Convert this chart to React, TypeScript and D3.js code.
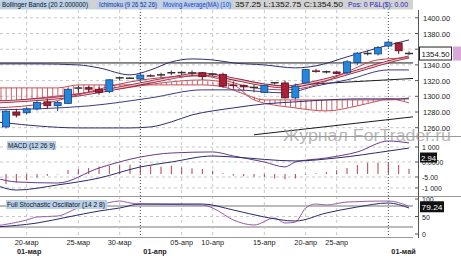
import React from "react";
import * as d3 from "d3";

const W = 461;
const H = 256;

// ---- candles (index 0..39) ----
const opens = [1261,1280,1279,1284,1293,1288,1291,1310,1311,1309,1306,1323,1323,1322,1326.5,1327,1329.5,1329.8,1329.5,1330,1328,1328,1314.5,1314,1311,1305,1317,1317,1298,1317,1333,1331,1331,1330,1343,1354,1354,1364,1368,1354.5];
const highs = [1282,1284,1286,1295,1297,1294,1310,1313,1313,1312,1322,1325,1324,1330,1328,1330,1333,1332,1333,1331,1329.5,1330,1319,1315,1315,1315,1318,1320,1316,1335,1335,1333,1332,1346,1356,1358,1364,1371,1369,1357.25];
const lows = [1259,1273,1277,1282,1284,1281,1290,1305,1306,1302,1304,1320,1322,1320,1325,1324,1327,1327,1326,1321,1326,1311,1310,1308,1305,1304,1315,1297,1296,1316,1330,1329,1328,1328,1340,1352,1352,1362,1354,1352.75];
const closes = [1281,1276,1284,1292,1288,1292,1309,1310.5,1309,1305,1321,1323.5,1323,1327,1326,1327.3,1330,1330.2,1329.8,1325,1328.3,1313,1314,1312,1311.3,1314,1317.3,1298,1313,1334,1332,1331.2,1329.5,1344,1355,1354.5,1362,1369,1358,1354.5];

// ---- main panel overlays: [index, price] ----
const bbUpper = [[-1,1341.3],[0,1341.3],[3,1341.3],[7,1340],[9,1336.2],[12,1327.3],[14,1333.6],[16,1343.8],[18,1347.6],[20,1346.4],[22,1342.5],[25,1340],[28,1336.2],[30,1338.8],[33,1350.2],[36,1361.7],[39,1371.8]];
const bbLower = [[-1,1267.4],[0,1266.1],[3,1262.3],[7,1259.7],[12,1259.7],[14,1261],[16,1267.4],[18,1276.3],[20,1281.4],[22,1285.2],[25,1290.3],[28,1292.9],[31,1295.4],[34,1296.7],[39,1296.7]];
const senkouA = [[-1,1310.7],[5,1310.7],[7,1314.5],[19,1314.5],[21,1312],[23,1303],[25,1295.4],[37,1295.4],[39,1298]];
const senkouB = [[-1,1291.6],[5,1300.5],[11,1309.4],[15,1317],[19,1320.9],[22,1314.5],[24,1295.4],[28,1285.2],[31,1281.4],[34,1287.8],[36,1294],[37,1296.7],[39,1291.6]];
const maLine = [[-1,1292.9],[5,1298],[10,1308.2],[14,1318.3],[19,1328.5],[21,1324.7],[25,1314.5],[27,1312],[30,1318.3],[33,1328.5],[35,1336.2],[37,1343.8],[39,1350.2]];
const tenkan = [[-1,1285.2],[4,1291.6],[8,1305.6],[12,1318.3],[16,1324.7],[19,1326],[21,1320.9],[24,1310.7],[27,1308.2],[30,1314.5],[33,1331.1],[36,1346.4],[39,1349]];
const kijun = [[-1,1282.7],[8,1287.8],[14,1298],[19,1308.2],[22,1308.2],[27,1304.3],[30,1313.2],[33,1320.9],[37,1333.6],[39,1333.6]];
const hLine = [[-1,1342.5],[39.5,1342.5]];
const trendLine = [[24,1251],[39.5,1274]];
const trendLine2 = [[28,1314.5],[39.5,1322.8]];

// ---- MACD ----
const macdLine = [[-1,-6.7],[1,-9.3],[5,-10],[9,0],[13,7.3],[16,10],[20,10.7],[22,8],[25,4],[27,0.7],[28,4],[31,6.7],[34,10.7],[37,18],[39,16.7]];
const signalLine = [[-1,-11.3],[1,-14.7],[5,-11.3],[9,-6.7],[13,0.7],[16,4],[20,8],[22,7.3],[28,4.7],[32,6.7],[37,11.3],[39,13.3]];
const macdHist = [-6.7,-5.8,-4,-2.4,-1.2,-0.3,2.7,3.3,4,4.9,5.5,6.2,6.2,6.2,5.5,4.9,5.5,4.4,3.8,3.3,2.2,0.5,-1.1,-1.5,-1.8,-2,-3,-3.5,-3,-0.5,0.5,1.5,2.5,4,6,7.5,7.5,7.5,6,3.5];

// ---- Stochastic ----
const stochK = [[-1,22.9],[2,40],[3,48.6],[5,51.4],[7,74.3],[9,82.9],[11,94.3],[12,88.6],[13,85.7],[19,82.9],[20,74.3],[22,40],[24,25.7],[26,45.7],[27,31.4],[28,34.3],[29,74.3],[30,85.7],[31,82.9],[33,91.4],[37,94.3],[39,79.2]];
const stochD = [[-1,20],[3,31.4],[6,48.6],[9,65.7],[11,74.3],[13,85.7],[19,85.7],[22,68.6],[25,48.6],[28,37.1],[31,60],[34,77.1],[37,88.6],[39,74.3]];

// ---- axes ----
const priceTicks = [1260,1280,1300,1320,1340,1360,1380,1400];
const macdTicks = [14, 4, -6, -13.3];
const macdTickLabels = ["1 000", "0.0000", "-5.00", "-1 000"];
const stochTicks = [100, 50, 0];
const dayTicks = [2, 7, 11, 17, 20, 25, 29, 32];
const dayLabels = ["20-мар", "25-мар", "30-мар", "05-апр", "10-апр", "15-апр", "20-апр", "25-апр"];
const monthTicks = [0, 13, 37];
const monthLabels = ["01-мар", "01-апр", "01-май"];

const FONT = "'Liberation Sans', Arial, sans-serif";

export default function App() {
  const plotR = 413;
  const x = d3.scaleLinear().domain([0, 39]).range([6, 409]);
  const yP = d3.scaleLinear().domain([1260, 1400]).range([127.7, 17.8]);
  const yM = d3.scaleLinear().domain([-10, 10]).range([183, 153]);
  const yS = d3.scaleLinear().domain([0, 100]).range([234, 199]);

  const mkLine = (ys: d3.ScaleLinear<number, number>) =>
    d3.line<number[]>().x((d) => x(d[0])).y((d) => ys(d[1])).curve(d3.curveMonotoneX);
  const lineP = mkLine(yP);
  const lineM = mkLine(yM);
  const lineS = mkLine(yS);
  const straightP = d3.line<number[]>().x((d) => x(d[0])).y((d) => yP(d[1]));

  const interp = (arr: number[][]) => {
    const xs = arr.map((d) => x(d[0]));
    const vs = arr.map((d) => yP(d[1]));
    return (px: number) => {
      for (let k = 0; k < xs.length - 1; k++) {
        if (px >= xs[k] && px <= xs[k + 1]) {
          const t = (px - xs[k]) / (xs[k + 1] - xs[k]);
          return vs[k] + t * (vs[k + 1] - vs[k]);
        }
      }
      return vs[vs.length - 1];
    };
  };
  const fA = interp(senkouA);
  const fB = interp(senkouB);
  const hatchXs = d3.range(1, x(39), 5.17);

  const bodyW = 7;

  return (
    <svg width={W} height={H} style={{ display: "block", position: "absolute", left: 0, top: 0, background: "#fff" }} fontFamily={FONT}>
      <defs>
        <clipPath id="cMain"><rect x={0} y={10} width={plotR} height={126} /></clipPath>
        <clipPath id="cMacd"><rect x={0} y={137} width={plotR} height={59} /></clipPath>
        <clipPath id="cSto"><rect x={0} y={197} width={plotR} height={40} /></clipPath>
      </defs>
      <rect x={0} y={0} width={W} height={H} fill="#fff" />

      {/* horizontal grids */}
      {priceTicks.map((t) => (
        <line key={"pg" + t} x1={0} x2={plotR} y1={yP(t)} y2={yP(t)} stroke="#c8c8c8" strokeDasharray="3,3" strokeWidth={1} />
      ))}
      {macdTicks.map((t) => (
        <line key={"mg" + t} x1={0} x2={plotR} y1={yM(t)} y2={yM(t)} stroke="#c8c8c8" strokeDasharray="3,3" />
      ))}
      <line x1={0} x2={plotR} y1={yS(50)} y2={yS(50)} stroke="#c8c8c8" strokeDasharray="3,3" />
      <line x1={0} x2={plotR} y1={yS(80)} y2={yS(80)} stroke="#777" />
      <line x1={0} x2={plotR} y1={yS(20)} y2={yS(20)} stroke="#777" />

      {/* vertical grids */}
      {dayTicks.map((t) => (
        <line key={"vg" + t} x1={x(t)} x2={x(t)} y1={10} y2={237} stroke="#c8c8c8" strokeDasharray="3,3" />
      ))}
      {monthTicks.slice(1).map((t) => (
        <line key={"mv" + t} x1={x(t)} x2={x(t)} y1={0} y2={237} stroke="#444" strokeDasharray="1,2" />
      ))}

      {/* main panel */}
      <g clipPath="url(#cMain)">
        {hatchXs.map((px, k) => (
          <line key={"h" + k} x1={px} x2={px} y1={fA(px)} y2={fB(px)} stroke="#c8505a" strokeWidth={0.9} />
        ))}
        <path d={lineP(senkouA as any) || ""} fill="none" stroke="#c8505a" strokeWidth={1} />
        <path d={lineP(senkouB as any) || ""} fill="none" stroke="#c8505a" strokeWidth={1} />
        <path d={straightP(hLine as any) || ""} fill="none" stroke="#1a1a1a" strokeWidth={1} />
        <path d={straightP(trendLine as any) || ""} fill="none" stroke="#1a1a1a" strokeWidth={1} />
        <path d={straightP(trendLine2 as any) || ""} fill="none" stroke="#1a1a1a" strokeWidth={1} />
        <path d={lineP(bbUpper as any) || ""} fill="none" stroke="#2e2e78" strokeWidth={1} />
        <path d={lineP(bbLower as any) || ""} fill="none" stroke="#2e2e78" strokeWidth={1} />
        <path d={lineP(kijun as any) || ""} fill="none" stroke="#3a3a8a" strokeWidth={1} />
        <path d={lineP(maLine as any) || ""} fill="none" stroke="#8a2030" strokeWidth={3} />
        <path d={lineP(maLine as any) || ""} fill="none" stroke="#f0b8d0" strokeWidth={1.4} />
        <path d={lineP(tenkan as any) || ""} fill="none" stroke="#c04050" strokeWidth={1} />

        {opens.map((o, i) => {
          const c = closes[i];
          const cx = x(i);
          const doji = Math.abs(c - o) < 1.2;
          const up = c >= o;
          const wickCol = doji ? (up ? "#333" : "#6a1a2a") : up ? "#1c3f7a" : "#5a1020";
          const top = yP(Math.max(o, c));
          const bot = yP(Math.min(o, c));
          return (
            <g key={"c" + i}>
              <line x1={cx} x2={cx} y1={yP(highs[i])} y2={yP(lows[i])} stroke={wickCol} strokeWidth={1} />
              {doji ? (
                <line x1={cx - 4} x2={cx + 4} y1={yP(c)} y2={yP(c)} stroke={wickCol} strokeWidth={1.5} />
              ) : (
                <rect x={cx - bodyW / 2} y={top} width={bodyW} height={Math.max(1.5, bot - top)}
                  fill={up ? "#2288dd" : "#a82038"} stroke={up ? "#1c3f7a" : "#5a1020"} strokeWidth={0.8} />
              )}
            </g>
          );
        })}
      </g>

      {/* MACD panel */}
      <g clipPath="url(#cMacd)">
        {macdHist.map((v, i) => (
          <line key={"mh" + i} x1={x(i)} x2={x(i)} y1={yM(-4)} y2={yM(-4 + v)} stroke="#b04050" strokeWidth={1} />
        ))}
        <path d={lineM(macdLine as any) || ""} fill="none" stroke="#6a3a8a" strokeWidth={1} />
        <path d={lineM(signalLine as any) || ""} fill="none" stroke="#2a2a70" strokeWidth={1} />
      </g>

      {/* Stochastic panel */}
      <g clipPath="url(#cSto)">
        <path d={lineS(stochK as any) || ""} fill="none" stroke="#9a5aa8" strokeWidth={1} />
        <path d={lineS(stochD as any) || ""} fill="none" stroke="#2a2a70" strokeWidth={1} />
      </g>

      {/* panel separators */}
      <line x1={0} x2={W} y1={136.5} y2={136.5} stroke="#999" />
      <line x1={0} x2={W} y1={196.5} y2={196.5} stroke="#999" />
      <line x1={0} x2={plotR} y1={237.5} y2={237.5} stroke="#999" />

      {/* right axis */}
      <line x1={418.5} x2={418.5} y1={10} y2={238} stroke="#555" />
      {priceTicks.map((t) => (
        <g key={"pt" + t}>
          <line x1={415} x2={419} y1={yP(t)} y2={yP(t)} stroke="#555" />
          <text x={423} y={yP(t) + 3} fontSize={7.5} fill="#222">{t.toFixed(2)}</text>
        </g>
      ))}
      {macdTicks.map((t, k) => (
        <g key={"mt" + t}>
          <line x1={415} x2={419} y1={yM(t)} y2={yM(t)} stroke="#555" />
          <text x={422} y={yM(t) + 3} fontSize={7} fill="#222">{macdTickLabels[k]}</text>
        </g>
      ))}
      {stochTicks.map((t) => (
        <g key={"st" + t}>
          <line x1={415} x2={419} y1={yS(t)} y2={yS(t)} stroke="#555" />
          <text x={422} y={yS(t) + 3} fontSize={7} fill="#222">{t}</text>
        </g>
      ))}

      {/* value boxes */}
      <rect x={419.5} y={yP(closes[39]) - 6.5} width={32} height={13} fill="#fff" stroke="#222" />
      <text x={421.5} y={yP(closes[39]) + 3} fontSize={8} fill="#111" textLength={28} lengthAdjust="spacingAndGlyphs">{closes[39].toFixed(2)}</text>
      <rect x={453} y={yP(closes[39]) - 7} width={8} height={14} fill="#d9a8d8" />
      <rect x={420} y={yM(macdHist[39] + 3.5) - 5} width={17} height={10} fill="#111" />
      <text x={421} y={yM(macdHist[39] + 3.5) + 3} fontSize={7.5} fill="#fff" textLength={15} lengthAdjust="spacingAndGlyphs">2.94</text>
      <rect x={420} y={yS(79.24) - 5} width={24} height={11} fill="#111" />
      <text x={421.5} y={yS(79.24) + 3.5} fontSize={8} fill="#fff" textLength={21} lengthAdjust="spacingAndGlyphs">79.24</text>

      {/* x axis labels */}
      {dayTicks.map((t, k) => (
        <text key={"dl" + t} x={x(t)} y={245} fontSize={7.3} textAnchor="middle" fill="#222">{dayLabels[k]}</text>
      ))}
      {monthTicks.map((t, k) => (
        <text key={"ml" + t} x={k === 0 ? 17 : x(t) + 3} y={254} fontSize={7.3} fontWeight="bold" fill="#222">{monthLabels[k]}</text>
      ))}

      {/* header */}
      <rect x={0} y={0} width={plotR} height={9.5} fill="#d2d2d2" />
      <rect x={0} y={0.5} width={90} height={8.5} fill="#b9d0ea" />
      <text x={2} y={7.3} fontSize={6.5} fill="#111" textLength={86} lengthAdjust="spacingAndGlyphs">Bollinger Bands (20 2.000000)</text>
      <rect x={97} y={0.5} width={62} height={8.5} fill="#b9d0ea" />
      <text x={99} y={7.3} fontSize={6.5} fill="#1a2a8a" textLength={58} lengthAdjust="spacingAndGlyphs">Ichimoku (9 26 52 26)</text>
      <rect x={161} y={0.5} width={72} height={8.5} fill="#b9d0ea" />
      <text x={163} y={7.3} fontSize={6.5} fill="#2040c0" textLength={68} lengthAdjust="spacingAndGlyphs">Moving Average(MA) (10)</text>
      <text x={235} y={7.3} fontSize={6.5} fill="#111" textLength={108} lengthAdjust="spacingAndGlyphs">357.25  L:1352.75  C:1354.50</text>
      <text x={348} y={7.3} fontSize={6.5} fill="#2020c0" textLength={60} lengthAdjust="spacingAndGlyphs">Pos: 0  P&amp;L($): 0.00</text>

      {/* sub-panel labels */}
      <rect x={7} y={141} width={49} height={9} fill="#b9d0ea" />
      <text x={8} y={148} fontSize={6.5} fill="#111" textLength={47} lengthAdjust="spacingAndGlyphs">MACD (12 26 9)</text>
      <rect x={6} y={200} width={101} height={9} fill="#b9d0ea" />
      <text x={7} y={207} fontSize={6.5} fill="#111" textLength={98} lengthAdjust="spacingAndGlyphs">Full Stochastic Oscillator (14 2 8)</text>

      {/* watermark */}
      <text x={283} y={141} fontSize={16} fill="#9a9a9a" opacity={0.7} textLength={168} lengthAdjust="spacingAndGlyphs">Журнал ForTrader.ru</text>
    </svg>
  );
}
